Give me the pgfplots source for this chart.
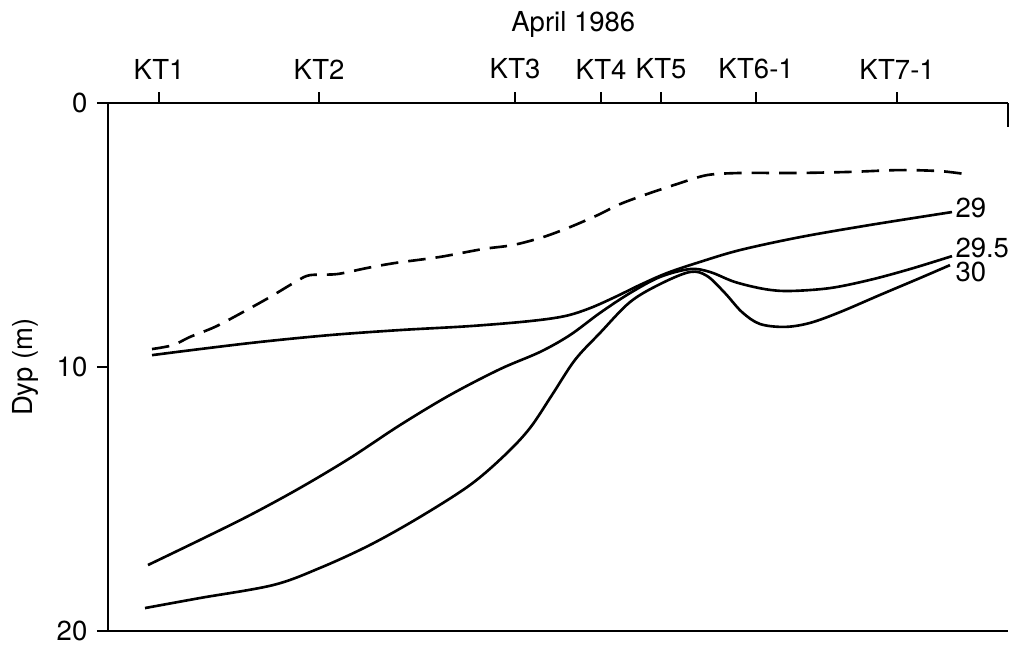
\documentclass[border=0pt]{standalone}
\usepackage{fontspec}
\setmainfont{TeX Gyre Heros}
\usepackage{pgfplots}
\pgfplotsset{compat=1.18}
\begin{document}
\begin{tikzpicture}
\fontsize{11}{13.2}\selectfont
\begin{axis}[
  scale only axis,
  width=360pt, height=211.2pt,
  xmin=108, xmax=1008,
  ymin=0, ymax=20, y dir=reverse,
  axis x line*=box,
  axis y line*=left,
  axis line style={line width=0.8pt},
  xtick={159,319,515,601,661,756,897},
  xticklabels={KT1,KT2,KT3,KT4,KT5,KT6-1,KT7-1},
  xtick pos=right, xticklabel pos=right,
  ytick={0,10,20},
  ytick pos=left,
  tick align=outside,
  major tick length=4.4pt,
  tick style={line width=0.8pt, black},
  xticklabel style={yshift=1.2pt},
  /pgf/number format/assume math mode=true,
  ticklabel style={font=\fontsize{11}{13.2}\selectfont},
  clip=false,
]
% bounding box matching the reference proportions
\path (rel axis cs:-0.12,-0.01515) rectangle (rel axis cs:1.00333,1.19508);

\addplot[black, no marks, line width=1.05pt, smooth, tension=0.5, dash pattern=on 7pt off 4pt] coordinates {
(152,9.32) (173,9.17) (190,8.86) (215,8.48) (243,7.92) (270,7.35) (297,6.74)
(310,6.52) (337,6.48) (367,6.25) (395,6.06) (440,5.83) (483,5.53) (513,5.38)
(543,5.08) (570,4.70) (598,4.24) (620,3.83) (647,3.45) (677,3.07) (707,2.73)
(740,2.65) (773,2.65) (800,2.65) (850,2.61) (900,2.54) (940,2.58) (965,2.69)
};

% isoline 29
\addplot[black, no marks, line width=1.05pt, smooth, tension=0.55] coordinates {
(152,9.55) (200,9.32) (260,9.05) (330,8.79) (400,8.60) (470,8.45) (530,8.26)
(565,8.07) (590,7.77) (615,7.35) (640,6.89) (667,6.44) (700,6.02) (740,5.57)
(800,5.08) (870,4.62) (952,4.13)
};

% isoline 29.5
\addplot[black, no marks, line width=1.05pt, smooth, tension=0.55] coordinates {
(148,17.50) (200,16.55) (250,15.61) (300,14.58) (350,13.45) (400,12.20)
(450,11.06) (500,10.08) (540,9.43) (570,8.79) (600,7.95) (630,7.20) (660,6.59)
(690,6.29) (710,6.40) (735,6.78) (765,7.05) (790,7.12) (830,7.01) (870,6.70)
(910,6.29) (952,5.80)
};

% isoline 30
\addplot[black, no marks, line width=1.05pt, smooth, tension=0.55] coordinates {
(145,19.13) (200,18.75) (273,18.26) (320,17.61) (370,16.74) (420,15.68)
(470,14.47) (505,13.33) (530,12.31) (552,11.06) (575,9.73) (600,8.71)
(630,7.54) (660,6.86) (690,6.40) (707,6.55) (725,7.20) (742,7.92) (760,8.37)
(785,8.48) (810,8.33) (840,7.92) (880,7.27) (920,6.63) (950,6.14)
};

\node[anchor=west, inner sep=0pt] at (axis cs:955,3.98) {29};
\node[anchor=west, inner sep=0pt] at (axis cs:955,5.49) {29.5};
\node[anchor=west, inner sep=0pt] at (axis cs:955,6.40) {30};

\node[anchor=base, inner sep=0pt] at (rel axis cs:0.517,1.1345) {April 1986};
\node[rotate=90, inner sep=0pt] at (rel axis cs:-0.092,0.5) {Dyp (m)};

\draw[line width=0.8pt] (rel axis cs:1,1) -- (rel axis cs:1,0.955);
\end{axis}
\end{tikzpicture}
\end{document}
